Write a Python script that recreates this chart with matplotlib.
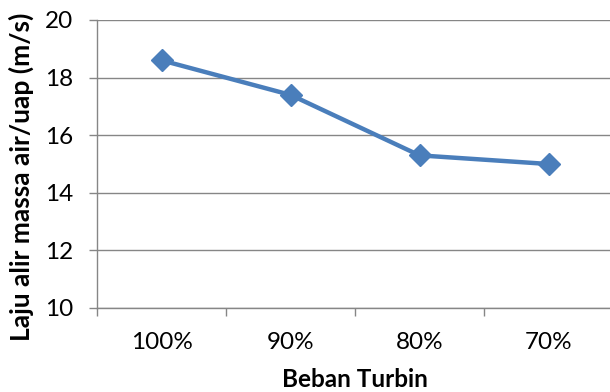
import matplotlib
matplotlib.use("Agg")
import matplotlib.pyplot as plt

categories = ["100%", "90%", "80%", "70%"]
values = [18.6, 17.4, 15.3, 15.0]
y_ticks = [10, 12, 14, 16, 18, 20]

plt.rcParams['font.family'] = ['Lato', 'DejaVu Sans']

W, H = 610, 392
fig = plt.figure(figsize=(W/100, H/100), dpi=100)
L, R, T, B = 97, 613, 20, 308
ax = fig.add_axes([L/W, 1 - B/H, (R-L)/W, (B-T)/H])

x = list(range(len(categories)))
ax.plot(x, values, color='#4A7EBB', lw=3.2, marker='D', ms=11.5,
        markerfacecolor='#4A7EBB', markeredgecolor='#4A7EBB', zorder=3,
        solid_joinstyle='round')

ax.set_xlim(-0.5, len(categories) - 0.5)
ax.set_ylim(10, 20)
ax.set_yticks(y_ticks)
ax.set_yticklabels([str(v) for v in y_ticks])
ax.set_xticks(x)
ax.set_xticklabels(categories)
ax.set_xticks([i - 0.5 for i in range(len(categories) + 1)], minor=True)

grid_c = '#868686'
for v in y_ticks:
    ax.axhline(v, color=grid_c, lw=1.0, zorder=1)

for s in ['top', 'right']:
    ax.spines[s].set_visible(False)
for s in ['left', 'bottom']:
    ax.spines[s].set_color(grid_c)
    ax.spines[s].set_linewidth(1.0)

ax.tick_params(axis='x', which='major', length=0, pad=17, labelsize=17.5)
ax.tick_params(axis='x', which='minor', length=6, width=1.0, color=grid_c, direction='out')
ax.tick_params(axis='y', length=6, width=1.0, color=grid_c, direction='out', pad=11, labelsize=17.5)

ax.set_xlabel("Beban Turbin", fontsize=17.5, fontweight='bold')
ax.set_ylabel("Laju alir massa air/uap (m/s)", fontsize=19, fontweight='bold')
# label positions in axes fraction
ax.xaxis.set_label_coords((355 - L) / (R - L), (B - 368) / (B - T))
ax.yaxis.set_label_coords((34 - L) / (R - L), (B - 177) / (B - T))

fig.savefig("out.png", dpi=100)
